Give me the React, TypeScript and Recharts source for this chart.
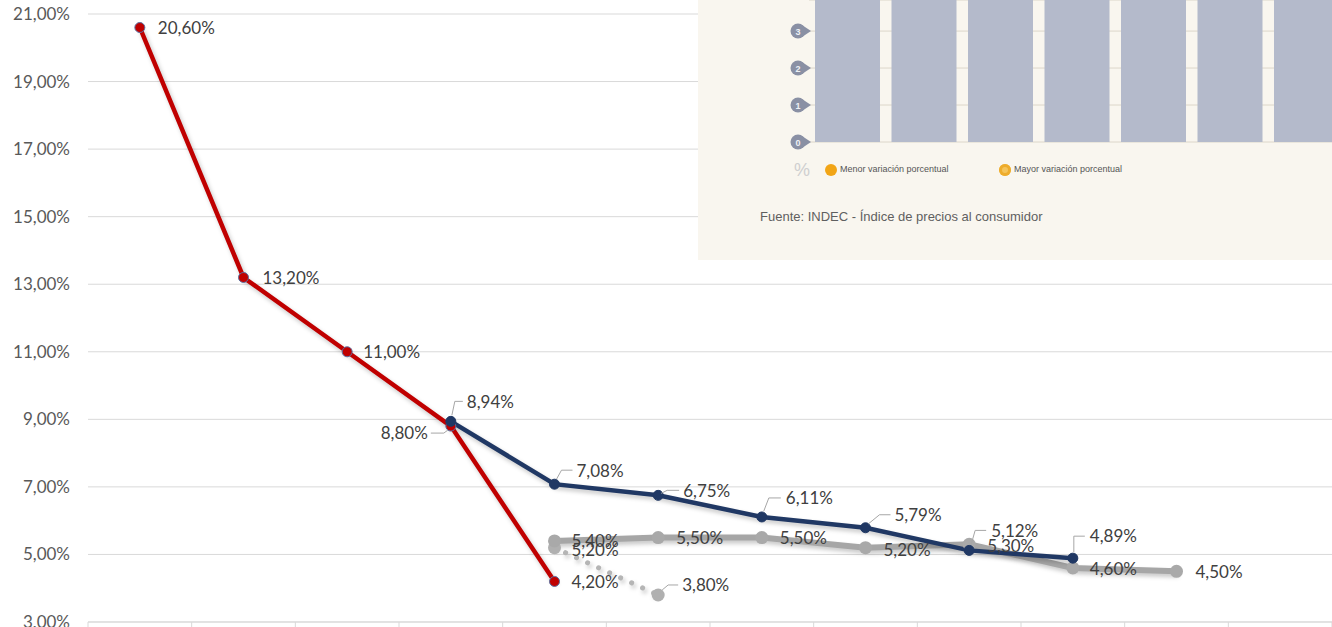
import React from "react"
import {
  LineChart,
  Line,
  XAxis,
  YAxis,
  CartesianGrid,
  LabelList,
  BarChart,
  Bar,
} from "recharts"

// ---------- data ----------
const categories = ["Ene", "Feb", "Mar", "Abr", "May", "Jun", "Jul", "Ago", "Sep", "Oct", "Nov", "Dic"]
const inflacion = [20.6, 13.2, 11.0, 8.8, 4.2, null, null, null, null, null, null, null]
const expectativa = [null, null, null, 8.94, 7.08, 6.75, 6.11, 5.79, 5.12, 4.89, null, null]
const proyeccion = [null, null, null, null, 5.4, 5.5, 5.5, 5.2, 5.3, 4.6, 4.5, null]
const proyeccionAlt = [null, null, null, null, 5.2, 3.8, null, null, null, null, null, null]
const yTicks = [3, 5, 7, 9, 11, 13, 15, 17, 19, 21]

// inset (captura INDEC)
const insetCats = ["1", "2", "3", "4", "5", "6", "7", "8"]
const insetValues = [4.6, 4.4, 4.5, 4.3, 4.7, 4.4, 4.5, 4.6]
const insetTicks = [0, 1, 2, 3]

const data = categories.map((c, i) => ({
  x: i + 0.5,
  cat: c,
  inflacion: inflacion[i],
  expectativa: expectativa[i],
  proyeccion: proyeccion[i],
  proyeccionAlt: proyeccionAlt[i],
}))

const insetData = insetCats.map((c, i) => ({ cat: c, v: insetValues[i] }))

// ---------- label placement ----------
type Spec = { dx?: number; dy?: number; anchor?: "start" | "end"; leader?: number[][] }

const redLabels: Record<number, Spec> = {
  0: { dx: 18 },
  1: { dx: 19 },
  2: { dx: 16 },
  3: { dx: -23, dy: 6, anchor: "end", leader: [[-20, 7], [-7, 7], [-3, 4]] },
  4: { dx: 17 },
}
const blueLabels: Record<number, Spec> = {
  3: { dx: 16, dy: -20, leader: [[1, -6], [4, -20], [12, -20]] },
  4: { dx: 22, dy: -14, leader: [[2, -5], [7, -14], [18, -14]] },
  5: { dx: 25, dy: -5, leader: [[3, -2], [9, -5], [21, -5]] },
  6: { dx: 24, dy: -19, leader: [[2, -6], [7, -19], [19, -19]] },
  7: { dx: 29, dy: -13, leader: [[3, -4], [14, -13], [25, -13]] },
  8: { dx: 22, dy: -20, leader: [[2, -6], [6, -20], [17, -20]] },
  9: { dx: 17, dy: -23, leader: [[1, -6], [1, -22], [12, -22]] },
}
const grayLabels: Record<number, Spec> = {
  4: { dx: 17 },
  5: { dx: 18 },
  6: { dx: 18 },
  7: { dx: 18, dy: 2 },
  8: { dx: 18, dy: 1 },
  9: { dx: 17, dy: 1 },
  10: { dx: 19 },
}
const grayAltLabels: Record<number, Spec> = {
  4: { dx: 17, dy: 2 },
  5: { dx: 24, dy: -10, leader: [[4, -5], [10, -10], [20, -10]] },
}

const fmt = (v: number) => v.toFixed(2).replace(".", ",") + "%"

function makeLabel(specs: Record<number, Spec>) {
  return (props: any) => {
    const { x, y, value, index } = props
    if (value === null || value === undefined || x == null || y == null) return null
    const s = specs[index] || {}
    const dx = s.dx ?? 17
    const dy = s.dy ?? 0
    return (
      <g key={`lb-${index}`}>
        {s.leader && (
          <polyline
            points={s.leader.map((p) => `${x + p[0]},${y + p[1]}`).join(" ")}
            fill="none"
            stroke="#a6a6a6"
            strokeWidth={1}
          />
        )}
        <text
          x={x + dx}
          y={y + dy}
          textAnchor={s.anchor ?? "start"}
          dominantBaseline="central"
          fontFamily="Lato, sans-serif"
          fontSize={17}
          fill="#404040"
        >
          {fmt(Number(value))}
        </text>
      </g>
    )
  }
}

function BadgeTick(props: any) {
  const { x, y, payload } = props
  return (
    <g>
      <path d={`M${x + 4},${y - 6} L${x + 13},${y} L${x + 4},${y + 6} Z`} fill="#8a90a4" />
      <circle cx={x} cy={y} r={7.5} fill="#8a90a4" />
      <text x={x} y={y + 0.5} textAnchor="middle" dominantBaseline="central" fontSize={9} fontWeight="bold" fill="#eef0f5" fontFamily="Liberation Sans, Arial">
        {payload.value}
      </text>
    </g>
  )
}

export default function App() {
  return (
    <div style={{ position: "absolute", left: 0, top: 0, width: 1332, height: 627, overflow: "hidden", background: "#fff", fontFamily: "Lato, sans-serif" }}>
      <style>{`.recharts-line-curve{filter:drop-shadow(2px 3px 2px rgba(0,0,0,0.22));}`}</style>
      <LineChart width={1332} height={660} data={data} margin={{ top: 14, right: 0, left: 0, bottom: 0 }}>
        <CartesianGrid horizontal vertical={false} stroke="#d9d9d9" />
        <XAxis
          dataKey="x"
          type="number"
          domain={[0, 12]}
          ticks={[0, 1, 2, 3, 4, 5, 6, 7, 8, 9, 10, 11, 12]}
          tickFormatter={() => ""}
          height={38}
          stroke="#d9d9d9"
          tickSize={6}
        />
        <YAxis
          type="number"
          domain={[3, 21]}
          ticks={yTicks}
          width={88}
          axisLine={false}
          tickLine={false}
          tickSize={6}
          tickMargin={12}
          tickFormatter={(v: number) => fmt(v)}
          tick={{ fill: "#595959", fontSize: 17, fontFamily: "Lato, sans-serif" }}
        />
        <Line
          dataKey="proyeccionAlt"
          stroke="#b5b5b5"
          strokeWidth={5}
          strokeDasharray="0.1 12"
          strokeLinecap="round"
          dot={{ r: 6.5, fill: "#b0b0b0", stroke: "none" }}
          isAnimationActive={false}
        >
          <LabelList dataKey="proyeccionAlt" content={makeLabel(grayAltLabels)} />
        </Line>
        <Line
          dataKey="proyeccion"
          stroke="#a6a6a6"
          strokeWidth={6}
          dot={{ r: 6.5, fill: "#a9a9a9", stroke: "none" }}
          isAnimationActive={false}
        >
          <LabelList dataKey="proyeccion" content={makeLabel(grayLabels)} />
        </Line>
        <Line
          dataKey="inflacion"
          stroke="#c00000"
          strokeWidth={4.5}
          dot={{ r: 5, fill: "#c00000", stroke: "#5b6ea0", strokeWidth: 1 }}
          isAnimationActive={false}
        >
          <LabelList dataKey="inflacion" content={makeLabel(redLabels)} />
        </Line>
        <Line
          dataKey="expectativa"
          stroke="#203864"
          strokeWidth={4.5}
          dot={{ r: 5, fill: "#203864", stroke: "#203864", strokeWidth: 1 }}
          isAnimationActive={false}
        >
          <LabelList dataKey="expectativa" content={makeLabel(blueLabels)} />
        </Line>
      </LineChart>

      {/* inset pegado: captura INDEC */}
      <div style={{ position: "absolute", left: 698, top: 0, width: 634, height: 260, background: "#f9f6ef", overflow: "hidden" }}>
        <BarChart width={723} height={160} data={insetData} margin={{ top: 0, right: 0, left: 0, bottom: 18 }}>
          <CartesianGrid horizontal vertical={false} stroke="#dcd6ca" />
          <XAxis dataKey="cat" hide />
          <YAxis
            type="number"
            domain={[0, 3.84]}
            allowDataOverflow
            ticks={insetTicks}
            width={111}
            axisLine={false}
            tickLine={false}
            tickSize={0}
            tickMargin={11}
            tick={<BadgeTick />}
          />
          <Bar dataKey="v" fill="#b4bacb" barSize={65} isAnimationActive={false} />
        </BarChart>
        <div style={{ position: "absolute", left: 96, top: 160, fontFamily: "Liberation Sans, Arial", fontSize: 18, color: "#cfcfcf" }}>%</div>
        <div style={{ position: "absolute", left: 127, top: 164, width: 12, height: 12, borderRadius: 6, background: "#f2a516" }} />
        <div style={{ position: "absolute", left: 142, top: 164, fontFamily: "Liberation Sans, Arial", fontSize: 9, color: "#555", whiteSpace: "nowrap" }}>Menor variación porcentual</div>
        <div style={{ position: "absolute", left: 301, top: 164, width: 12, height: 12, borderRadius: 6, background: "#f5c45a", boxShadow: "inset 0 0 0 3px #eeac2c" }} />
        <div style={{ position: "absolute", left: 316, top: 164, fontFamily: "Liberation Sans, Arial", fontSize: 9, color: "#555", whiteSpace: "nowrap" }}>Mayor variación porcentual</div>
        <div style={{ position: "absolute", left: 62, top: 209, fontFamily: "Liberation Sans, Arial", fontSize: 13, color: "#5f5f5f", whiteSpace: "nowrap" }}>Fuente: INDEC - Índice de precios al consumidor</div>
      </div>
    </div>
  )
}
